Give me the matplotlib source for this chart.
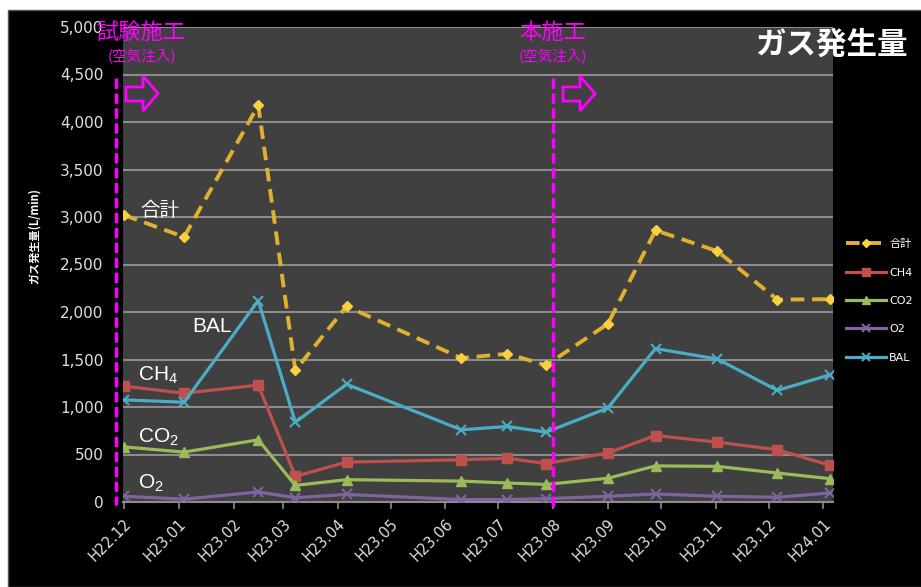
import matplotlib
matplotlib.use('Agg')
import matplotlib.pyplot as plt
import matplotlib.dates as mdates
from matplotlib.patches import Rectangle, Polygon
from matplotlib.lines import Line2D
from matplotlib.ticker import FuncFormatter
from matplotlib.font_manager import FontProperties
import datetime as dt

plt.rcParams['font.family'] = ['DejaVu Sans', 'Noto Sans CJK JP']
plt.rcParams['mathtext.default'] = 'regular'

# ---------------- data ----------------
dates = ['2010-12-01', '2011-01-04', '2011-02-15', '2011-03-08', '2011-04-06',
         '2011-06-10', '2011-07-06', '2011-07-28', '2011-09-01', '2011-09-28',
         '2011-11-02', '2011-12-06', '2012-01-05']
total = [3020, 2790, 4175, 1385, 2060, 1515, 1560, 1440, 1875, 2860, 2640, 2130, 2135]
ch4 = [1220, 1145, 1230, 270, 420, 445, 460, 405, 515, 700, 630, 550, 385]
co2 = [580, 525, 655, 175, 235, 220, 200, 185, 250, 380, 375, 305, 245]
o2 = [60, 30, 105, 45, 80, 25, 25, 35, 60, 85, 60, 50, 95]
bal = [1075, 1050, 2120, 840, 1240, 760, 795, 735, 990, 1615, 1505, 1175, 1340]
series_names = ['合計', 'CH4', 'CO2', 'O2', 'BAL']
tick_dates = ['2010-12-01', '2011-01-01', '2011-02-01', '2011-03-01', '2011-04-01',
              '2011-05-01', '2011-06-01', '2011-07-01', '2011-08-01', '2011-09-01',
              '2011-10-01', '2011-11-01', '2011-12-01', '2012-01-01']
tick_labels = ['H22.12', 'H23.01', 'H23.02', 'H23.03', 'H23.04', 'H23.05', 'H23.06',
               'H23.07', 'H23.08', 'H23.09', 'H23.10', 'H23.11', 'H23.12', 'H24.01']

# ---------------- figure ----------------
W, H = 921, 587
fig = plt.figure(figsize=(W / 100, H / 100), dpi=100, facecolor='white')


def fx(px):
    return px / W


def fy(py):
    return 1 - py / H


fig.patches.append(Rectangle((fx(8), 0), 1, fy(10), transform=fig.transFigure,
                             facecolor='black', edgecolor='#555555', lw=1, zorder=-1))

ax = fig.add_axes([fx(123), fy(502), fx(833) - fx(123), fy(27) - fy(502)])
ax.set_facecolor('#404040')

to_num = lambda s: mdates.date2num(dt.datetime.strptime(s, '%Y-%m-%d'))
xs = [to_num(d) for d in dates]

ax.plot(xs, total, color='#E0B030', lw=2.8, ls=(0, (3.5, 2)), marker='D', ms=5,
        mfc='#F8D040', mec='#F8D040', label=series_names[0], zorder=3)
ax.plot(xs, ch4, color='#C0504D', lw=2.3, marker='s', ms=7, label=series_names[1], zorder=3)
ax.plot(xs, co2, color='#9BBB59', lw=2.3, marker='^', ms=7, label=series_names[2], zorder=3)
ax.plot(xs, o2, color='#8064A2', lw=2.3, marker='x', ms=7, mew=1.5, label=series_names[3], zorder=3)
ax.plot(xs, bal, color='#4BACC6', lw=2.3, marker='x', ms=7, mew=1.5, label=series_names[4], zorder=3)

ax.set_ylim(0, 5000)
ax.set_yticks(range(0, 5001, 500))
ax.yaxis.set_major_formatter(FuncFormatter(lambda v, p: f'{int(v):,}'))
ax.set_xlim(to_num('2010-12-01') - 0.6, to_num('2012-01-06') + 0.5)
ax.set_xticks([to_num(d) for d in tick_dates])
ax.set_xticklabels(tick_labels, rotation=45, ha='right', rotation_mode='anchor')

ax.yaxis.grid(True, color='#8c8c8c', lw=1.5)
ax.set_axisbelow(True)
for s in ['left', 'top', 'right']:
    ax.spines[s].set_visible(False)
ax.spines['bottom'].set_color('#8c8c8c')
ax.spines['bottom'].set_linewidth(1.5)
ax.tick_params(axis='x', direction='out', length=5, width=1.2, color='#8c8c8c',
               labelcolor='#e0e0e0', labelsize=10.5, pad=5)
ax.tick_params(axis='y', length=0, labelcolor='#e0e0e0', labelsize=11, pad=14)

leg_prop = FontProperties(family=['DejaVu Sans', 'Noto Sans CJK JP'], size=8)
ax.legend(loc='center left', bbox_to_anchor=(fx(836), fy(301)),
          bbox_transform=fig.transFigure, frameon=False, labelcolor='white',
          prop=leg_prop, handlelength=3.6, labelspacing=1.65, handletextpad=0.3,
          markerscale=0.8)

# ---------------- annotations ----------------
mag = '#FF00FF'
cjk = ['Noto Sans CJK JP', 'DejaVu Sans']
fig.text(fx(141), fy(32), '試験施工', color=mag, fontsize=16, ha='center', va='center', family=cjk)
fig.text(fx(142), fy(57), '(空気注入)', color=mag, fontsize=10.5, ha='center', va='center', family=cjk)
fig.text(fx(553), fy(32), '本施工', color=mag, fontsize=16, ha='center', va='center', family=cjk)
fig.text(fx(553), fy(57), '(空気注入)', color=mag, fontsize=10.5, ha='center', va='center', family=cjk)

fig.add_artist(Line2D([fx(116), fx(116)], [fy(78), fy(505)], transform=fig.transFigure,
                      color=mag, lw=2.5, ls=(0, (3, 1.3)), zorder=5))
fig.add_artist(Line2D([fx(553), fx(553)], [fy(78), fy(510)], transform=fig.transFigure,
                      color=mag, lw=2.5, ls=(0, (3, 1.3)), zorder=5))

for x0 in (126, 563):
    pts = [(x0, 87), (x0 + 17, 87), (x0 + 17, 76), (x0 + 32, 93.5),
           (x0 + 17, 111), (x0 + 17, 101), (x0, 101)]
    fig.patches.append(Polygon([(fx(a), fy(b)) for a, b in pts], closed=True,
                               transform=fig.transFigure, facecolor='none',
                               edgecolor=mag, lw=2, zorder=5))

fig.text(fx(831), fy(45), 'ガス発生量', color='white', fontsize=22, fontweight='bold',
         ha='center', va='center', family=cjk)
fig.text(fx(34), fy(236), 'ガス発生量(L/min)', rotation=90, color='white', fontsize=8,
         fontweight='bold', ha='center', va='center', family=cjk)

lab_font = ['Liberation Sans', 'Noto Sans CJK JP']
fig.text(fx(140), fy(210), '合計', color='white', fontsize=14, ha='left', va='center', family=cjk)
fig.text(fx(192), fy(327), 'BAL', color='white', fontsize=15, ha='left', va='center', family=lab_font)
fig.text(fx(138), fy(375), 'CH$_4$', color='white', fontsize=15, ha='left', va='center', family=lab_font)
fig.text(fx(138), fy(437), 'CO$_2$', color='white', fontsize=15, ha='left', va='center', family=lab_font)
fig.text(fx(138), fy(483), 'O$_2$', color='white', fontsize=15, ha='left', va='center', family=lab_font)

fig.savefig('out.png', dpi=100, facecolor=fig.get_facecolor())
